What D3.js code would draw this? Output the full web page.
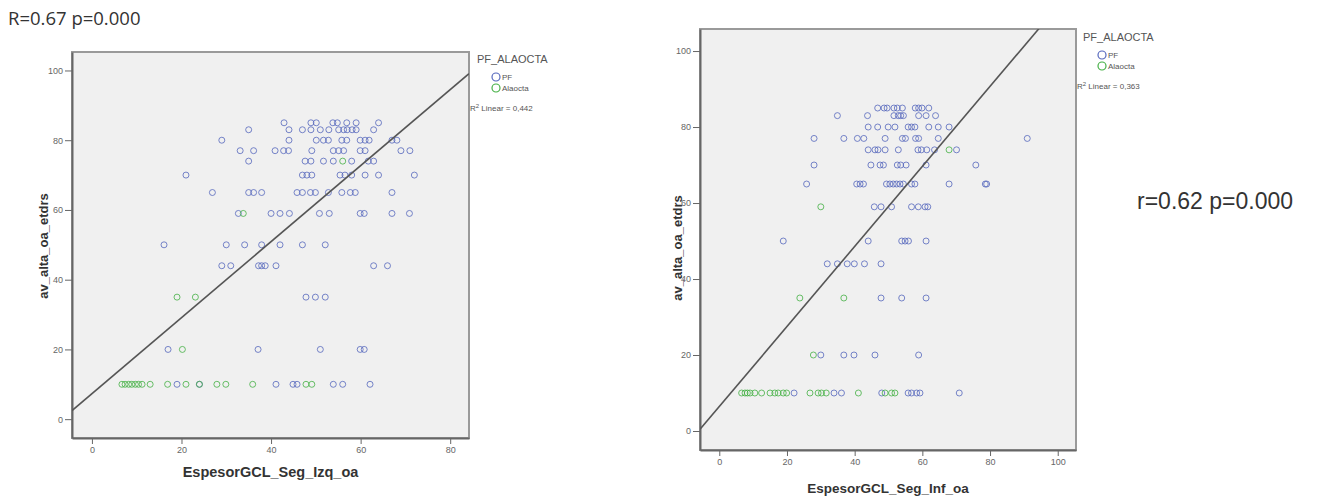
<!DOCTYPE html>
<html>
<head>
<meta charset="utf-8">
<script src="https://cdn.jsdelivr.net/npm/d3@7"></script>
<style>
  body { margin: 0; background: #fff; }
  svg { display: block; }
</style>
</head>
<body>
<svg id="chart" width="1322" height="500"></svg>
<script>
// rows of the scatter: [av_alta_oa_etdrs, [EspesorGCL values]]
const izqPF = [
  [85, [42.9, 48.9, 50.1, 53.8, 54.8, 56.9, 59.0, 64.0]],
  [83, [35.0, 44.0, 47.0, 48.9, 51.0, 52.9, 55.1, 56.2, 57.0, 58.1, 59.0, 62.9]],
  [80, [29.0, 44.0, 50.1, 51.7, 52.8, 55.8, 56.9, 59.9, 61.0, 61.9, 67.0, 68.1]],
  [77, [33.1, 36.1, 40.9, 42.8, 43.9, 49.1, 53.9, 55.1, 56.2, 59.9, 61.0, 69.0, 71.0]],
  [74, [35.0, 47.6, 48.9, 51.7, 53.9, 58.0, 61.7, 62.9]],
  [70, [21.0, 47.0, 48.0, 49.1, 55.4, 56.5, 58.0, 61.0, 64.0, 72.0]],
  [65, [26.9, 35.0, 36.1, 37.9, 45.8, 47.0, 48.8, 49.9, 52.8, 55.8, 57.7, 58.8, 67.0]],
  [59, [32.7, 40.0, 42.0, 44.1, 50.8, 53.0, 59.9, 60.8, 67.0, 70.9]],
  [50, [16.1, 30.0, 34.1, 37.9, 42.0, 47.0, 52.1]],
  [44, [29.0, 31.0, 37.2, 37.9, 38.7, 41.1, 62.9, 66.0]],
  [35, [47.8, 49.9, 52.1]],
  [20, [17.0, 37.1, 51.0, 59.9, 60.8]],
  [10, [19.0, 24.0, 41.1, 44.9, 45.8, 53.9, 56.0, 62.1]]
];
const izqAla = [
  [74, [56.0]],
  [59, [33.8]],
  [35, [19.0, 23.1]],
  [20, [20.2]],
  [10, [6.7, 7.4, 8.2, 8.9, 9.7, 10.4, 11.2, 13.0, 16.9, 21.0, 24.0, 27.9, 29.9, 35.9, 47.8, 49.1]]
];
const infPF = [
  [85, [46.8, 48.7, 49.6, 51.6, 52.6, 54.1, 57.9, 58.9, 59.9, 61.9]],
  [83, [34.9, 43.8, 51.6, 52.9, 53.6, 54.4, 58.9, 61.1, 63.9]],
  [80, [44.0, 46.8, 49.9, 51.9, 55.8, 56.8, 57.8, 61.9, 64.7, 67.9]],
  [77, [28.0, 36.8, 40.8, 42.7, 49.0, 54.1, 55.0, 58.0, 58.9, 64.7, 91.0]],
  [74, [44.0, 46.0, 46.9, 49.0, 52.9, 58.7, 59.7, 61.3, 63.6, 70.1]],
  [70, [28.0, 44.8, 47.5, 48.5, 52.6, 53.6, 55.2, 61.1, 75.8]],
  [65, [25.8, 40.6, 41.6, 42.6, 49.4, 50.4, 51.4, 52.4, 53.4, 54.4, 56.8, 57.8, 67.9, 78.6, 79.0]],
  [59, [45.8, 47.8, 50.9, 56.8, 58.8, 60.8, 61.6]],
  [50, [18.9, 44.0, 53.9, 54.9, 55.9, 61.1]],
  [44, [31.9, 34.9, 37.8, 39.9, 42.9, 47.8]],
  [35, [47.8, 53.9, 61.1]],
  [20, [30.0, 36.8, 39.8, 46.0, 58.9]],
  [10, [22.1, 33.9, 36.1, 48.0, 55.8, 56.8, 58.3, 59.3, 70.9]]
];
const infAla = [
  [74, [67.9]],
  [59, [30.0]],
  [35, [23.8, 36.8]],
  [20, [27.8]],
  [10, [6.6, 7.6, 8.3, 9.1, 10.5, 12.5, 15.0, 16.4, 17.4, 18.9, 19.9, 26.8, 29.2, 30.2, 31.6, 41.1, 49.0, 50.9, 51.9]]
];

// fit lines: [intercept, slope]
const izqFit = [7.3, 1.09];
const infFit = [6.45, 1.053];

const izqXTicks = [0, 20, 40, 60, 80];
const infXTicks = [0, 20, 40, 60, 80, 100];
const yTicks = [0, 20, 40, 60, 80, 100];

const groups = ["PF", "Alaocta"];
const groupColors = ["#5668bd", "#45b045"];

const svg = d3.select("#chart");

function flat(rows) {
  return rows.flatMap(([y, xs]) => xs.map(x => ({ x, y })));
}

function panel(o) {
  const x = d3.scaleLinear().domain(o.xDomain).range([o.left, o.right]);
  const y = d3.scaleLinear().domain(o.yDomain).range([o.bottom, o.top]);
  const g = svg.append("g");

  g.append("rect")
    .attr("x", o.left).attr("y", o.top)
    .attr("width", o.right - o.left).attr("height", o.bottom - o.top)
    .attr("fill", "#f0f0f0")
    .attr("stroke", "#9a9a9a")
    .attr("stroke-width", 2);

  const clipId = "clip-" + o.id;
  g.append("clipPath").attr("id", clipId)
    .append("rect")
    .attr("x", o.left).attr("y", o.top)
    .attr("width", o.right - o.left).attr("height", o.bottom - o.top);

  // axes
  const ya = g.append("g")
    .attr("transform", `translate(${o.left},0)`)
    .call(d3.axisLeft(y).tickValues(yTicks).tickSize(7).tickSizeOuter(0).tickPadding(2));
  const xa = g.append("g")
    .attr("transform", `translate(0,${o.bottom})`)
    .call(d3.axisBottom(x).tickValues(o.xTicks).tickSize(6).tickSizeOuter(0).tickPadding(3));
  [ya, xa].forEach(a => {
    a.select(".domain").attr("stroke", "#666").attr("stroke-width", 2);
    a.selectAll(".tick line").attr("stroke", "#666");
    a.selectAll(".tick text")
      .attr("fill", "#666")
      .style("font", "9px 'Liberation Sans', Arial, sans-serif");
  });

  // points
  const pts = g.append("g").attr("clip-path", `url(#${clipId})`);
  [o.pf, o.ala].forEach((rows, i) => {
    pts.selectAll(null)
      .data(flat(rows))
      .join("circle")
      .attr("cx", d => x(d.x))
      .attr("cy", d => y(d.y))
      .attr("r", 3)
      .attr("fill", "none")
      .attr("stroke", groupColors[i])
      .attr("stroke-opacity", 0.8)
      .attr("stroke-width", 1);
  });

  // fit line
  const [b0, b1] = o.fit;
  const xd = o.xDomain;
  pts.append("line")
    .attr("x1", x(xd[0])).attr("y1", y(b0 + b1 * xd[0]))
    .attr("x2", x(xd[1])).attr("y2", y(b0 + b1 * xd[1]))
    .attr("stroke", "#555")
    .attr("stroke-width", 1.6);

  // axis titles
  g.append("text")
    .attr("x", (o.left + o.right) / 2)
    .attr("y", o.xTitleY)
    .attr("text-anchor", "middle")
    .attr("fill", "#333")
    .style("font", `bold ${o.xTitleSize}px 'Liberation Sans', Arial, sans-serif`)
    .text(o.xTitle);
  g.append("text")
    .attr("transform", `translate(${o.yTitleX},${o.yTitleY}) rotate(-90)`)
    .attr("text-anchor", "middle")
    .attr("fill", "#333")
    .style("font", "bold 13px 'Liberation Sans', Arial, sans-serif")
    .text("av_alta_oa_etdrs");

  // legend
  const lg = g.append("g").attr("transform", `translate(${o.legX},${o.legY})`);
  lg.append("text")
    .attr("x", 0).attr("y", 4)
    .attr("fill", "#555")
    .style("font", "11px 'Liberation Sans', Arial, sans-serif")
    .text("PF_ALAOCTA");
  groups.forEach((name, i) => {
    lg.append("circle")
      .attr("cx", 19).attr("cy", 18 + i * 11)
      .attr("r", 4)
      .attr("fill", "none")
      .attr("stroke", groupColors[i])
      .attr("stroke-width", 1.2);
    lg.append("text")
      .attr("x", 25).attr("y", 21 + i * 11)
      .attr("fill", "#555")
      .style("font", "8px 'Liberation Sans', Arial, sans-serif")
      .text(name);
  });
  const r2 = lg.append("text")
    .attr("x", o.right - o.legX + 1).attr("y", 52)
    .attr("fill", "#555")
    .style("font", "8px 'Liberation Sans', Arial, sans-serif");
  r2.append("tspan").text("R");
  r2.append("tspan").attr("dy", -3).style("font-size", "6px").text("2");
  r2.append("tspan").attr("dy", 3).text(" Linear = " + o.r2);
}

panel({
  id: "izq", left: 72, right: 469, top: 52, bottom: 438,
  xDomain: [-4.45, 84.2], yDomain: [-5.4, 105.3],
  xTicks: izqXTicks, pf: izqPF, ala: izqAla, fit: izqFit,
  xTitle: "EspesorGCL_Seg_Izq_oa", xTitleY: 477, xTitleSize: 14.5,
  yTitleX: 48, yTitleY: 246,
  legX: 477, legY: 59, r2: "0,442"
});

panel({
  id: "inf", left: 700, right: 1076, top: 29, bottom: 450,
  xDomain: [-5.7, 105.4], yDomain: [-5.0, 105.8],
  xTicks: infXTicks, pf: infPF, ala: infAla, fit: infFit,
  xTitle: "EspesorGCL_Seg_Inf_oa", xTitleY: 493, xTitleSize: 13.5,
  yTitleX: 682, yTitleY: 248,
  legX: 1083, legY: 37, r2: "0,363"
});

// correlation notes
svg.append("text")
  .attr("x", 8).attr("y", 25)
  .attr("fill", "#333")
  .style("font", "18.5px 'Open Sans', sans-serif")
  .text("R=0.67 p=0.000");
svg.append("text")
  .attr("x", 1137).attr("y", 209)
  .attr("fill", "#333")
  .style("font", "23px 'Liberation Sans', Arial, sans-serif")
  .text("r=0.62 p=0.000");
</script>
</body>
</html>
